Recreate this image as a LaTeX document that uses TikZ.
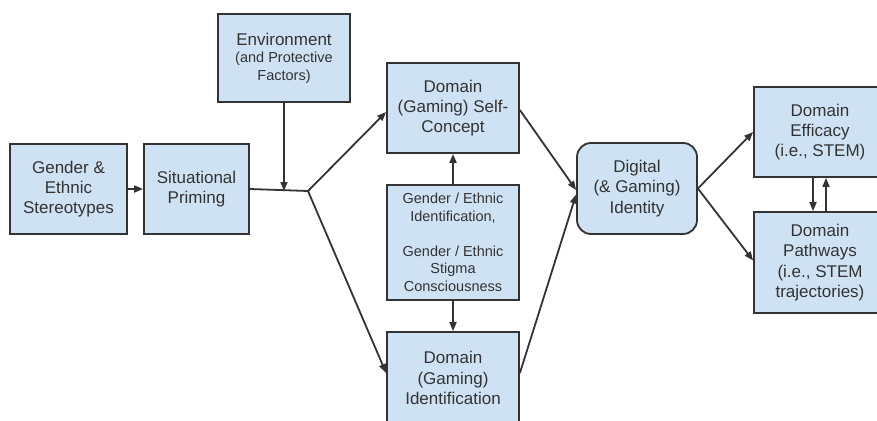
\documentclass[tikz,border=0pt]{standalone}
\usepackage{fontspec}
\setmainfont{Liberation Sans}
\usetikzlibrary{arrows.meta}
\definecolor{colFill}{HTML}{CFE2F3}
\definecolor{colLine}{HTML}{333333}
\newcommand{\bigtxt}{\fontsize{17}{20.3}\selectfont}
\newcommand{\smalltxt}{\fontsize{14.5}{17.5}\selectfont}
\tikzstyle{box}=[rectangle, draw=colLine, fill=colFill, line width=1.8pt, text=colLine, align=center, inner sep=0pt, font=\bigtxt]
\tikzstyle{rbox}=[box, rounded corners=14pt]
\tikzstyle{edge}=[line width=1.8pt, colLine]
\tikzstyle{arr}=[edge, -{Triangle[length=9pt,width=7pt]}]

\begin{document}
\begin{tikzpicture}[x=1pt,y=-1pt]
	\useasboundingbox (0,0) rectangle (877,420);

	%%% Left column
	\node[box, minimum width=117pt, minimum height=90pt] (stereo)  at (68.5,189) {Gender \&\\Ethnic\\Stereotypes};
	\node[box, minimum width=105pt, minimum height=90pt] (priming) at (196.5,189) {Situational\\Priming};
	\node[box, minimum width=132pt, minimum height=88pt, font=\smalltxt] (env) at (284,58)
		{{\bigtxt Environment}\\(and Protective\\Factors)};
	\coordinate (j) at (308,191);

	%%% Centre column
	\node[box, minimum width=132pt, minimum height=90pt]  (selfcon) at (453,108) {Domain\\(Gaming) Self-\\Concept};
	\node[box, minimum width=132pt, minimum height=115pt, font=\smalltxt] (stigma) at (453,242.5)
		{Gender / Ethnic\\Identification,\\[17.5pt]Gender / Ethnic\\Stigma\\Consciousness};
	\node[box, minimum width=132pt, minimum height=92pt]  (ident)   at (453,378) {Domain\\(Gaming)\\Identification};

	%%% Identity and outcomes
	\node[rbox, minimum width=120pt, minimum height=91pt] (digital) at (637,188.5) {Digital\\(\& Gaming)\\Identity};
	\node[box, minimum width=132pt, minimum height=90pt]  (efficacy) at (820,132) {Domain\\Efficacy\\(i.e., STEM)};
	\node[box, minimum width=132pt, minimum height=101pt] (pathways) at (820,262.5) {Domain\\Pathways\\(i.e., STEM\\trajectories)};

	%%% Priming and environment into the junction
	\draw[arr] (stereo) -- (priming);
	\draw[edge] (priming.east) -- (j);
	\draw[arr] (env) -- (env |- j);
	\draw[arr] (j) -- ([yshift=-4pt]selfcon.west);
	\draw[arr] (j) -- ([yshift=5pt]ident.west);

	%%% Moderator
	\draw[arr] (stigma) -- (selfcon);
	\draw[arr] (stigma) -- (ident);

	%%% Into identity
	\draw[arr] ([yshift=-2pt]selfcon.east) -- ([yshift=-1.5pt]digital.west);
	\draw[arr] ([yshift=5pt]ident.east) -- ([yshift=-6pt]digital.west);

	%%% Outcomes
	\draw[arr] (digital.east) -- (efficacy.west);
	\draw[arr] (digital.east) -- ([yshift=2pt]pathways.west);
	\draw[arr] ([xshift=-7pt]efficacy.south) -- ([xshift=-7pt]pathways.north);
	\draw[arr] ([xshift=6pt]pathways.north) -- ([xshift=6pt]efficacy.south);
\end{tikzpicture}
\end{document}
